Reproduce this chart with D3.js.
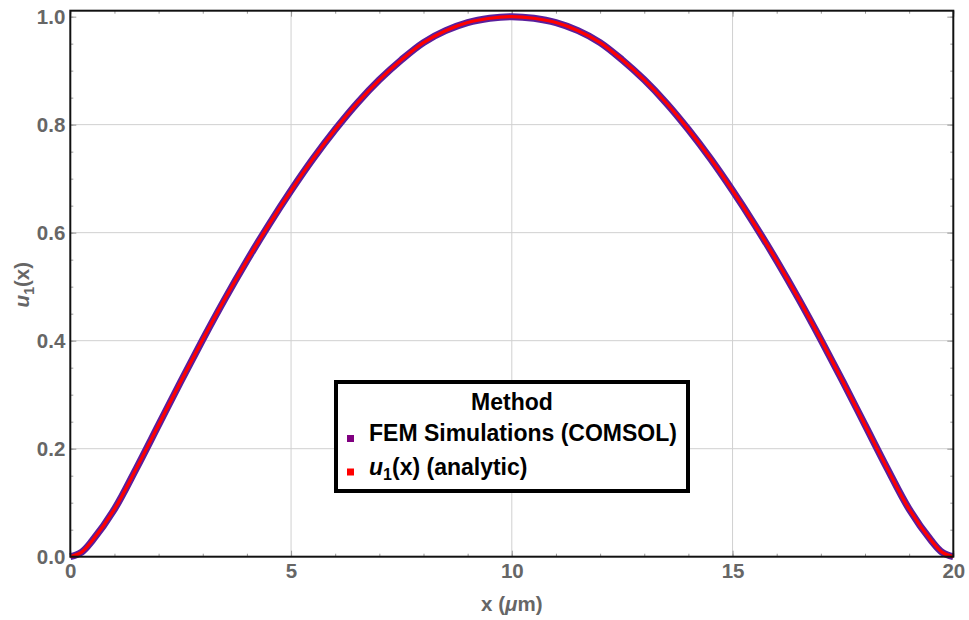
<!DOCTYPE html>
<html>
<head>
<meta charset="utf-8">
<script src="https://cdn.jsdelivr.net/npm/d3@7"></script>
<style>
  html, body { margin: 0; padding: 0; background: #fff; }
  svg { display: block; font-family: "Liberation Sans", Arial, sans-serif; }
</style>
</head>
<body>
<svg id="chart" width="969" height="620"></svg>
<script>
// Displacement profile u1(x) along the beam (x in micrometres)
const xPositions = [0, 0.25, 0.5, 1, 1.5, 2, 2.5, 3, 3.5, 4, 4.5, 5, 5.5, 6, 6.5, 7, 7.5, 8, 8.5, 9, 9.5, 10,
  10.5, 11, 11.5, 12, 12.5, 13, 13.5, 14, 14.5, 15, 15.5, 16, 16.5, 17, 17.5, 18, 18.5, 19, 19.5, 19.75, 20];
const femValues = [0, 0.008, 0.030, 0.088, 0.164, 0.244, 0.324, 0.402, 0.477, 0.548, 0.615, 0.678, 0.737, 0.791, 0.840, 0.883, 0.920, 0.952, 0.974, 0.989, 0.997, 1.000,
  0.997, 0.989, 0.974, 0.952, 0.920, 0.883, 0.840, 0.791, 0.737, 0.678, 0.615, 0.548, 0.477, 0.402, 0.324, 0.244, 0.164, 0.088, 0.030, 0.008, 0];
const analyticValues = [0, 0.008, 0.030, 0.088, 0.164, 0.244, 0.324, 0.402, 0.477, 0.548, 0.615, 0.678, 0.737, 0.791, 0.840, 0.883, 0.920, 0.952, 0.974, 0.989, 0.997, 1.000,
  0.997, 0.989, 0.974, 0.952, 0.920, 0.883, 0.840, 0.791, 0.737, 0.678, 0.615, 0.548, 0.477, 0.402, 0.324, 0.244, 0.164, 0.088, 0.030, 0.008, 0];

const xTicks = [0, 5, 10, 15, 20];
const yTicks = [0.0, 0.2, 0.4, 0.6, 0.8, 1.0];
const xMinorTicks = d3.range(0, 20.001, 1);
const yMinorTicks = d3.range(0, 1.0001, 0.05);
const seriesNames = ["FEM Simulations (COMSOL)", "(analytic)"];
const seriesColors = ["#800080", "#ff0000"];

const svg = d3.select("#chart");
const plotLeft = 70.3, plotRight = 953.3, plotTop = 10.7, plotBottom = 556.7;
const labelFont = 20.5;

const x = d3.scaleLinear().domain([0, 20]).range([plotLeft, plotRight]);
const y = d3.scaleLinear().domain([0, 1.011]).range([plotBottom, plotTop]);

// grid
const grid = svg.append("g").attr("stroke", "#d0d0d0").attr("stroke-width", 1);
grid.selectAll(".gx").data(xTicks.slice(1, -1)).join("line")
  .attr("x1", d => x(d)).attr("x2", d => x(d)).attr("y1", plotTop).attr("y2", plotBottom);
grid.selectAll(".gy").data(yTicks.slice(1, -1)).join("line")
  .attr("x1", plotLeft).attr("x2", plotRight).attr("y1", d => y(d)).attr("y2", d => y(d));

// tick marks on all four sides, pointing inward
function innerTicks(axisGen, transform, values, size) {
  const g = svg.append("g").attr("transform", transform)
    .call(axisGen.tickValues(values).tickSize(size).tickFormat(""));
  g.select(".domain").remove();
  g.selectAll(".tick line").attr("stroke", "#999").attr("stroke-width", 1);
}
innerTicks(d3.axisTop(x), `translate(0,${plotBottom})`, xMinorTicks, 3);
innerTicks(d3.axisTop(x), `translate(0,${plotBottom})`, xTicks, 6);
innerTicks(d3.axisBottom(x), `translate(0,${plotTop})`, xMinorTicks, 3);
innerTicks(d3.axisBottom(x), `translate(0,${plotTop})`, xTicks, 6);
innerTicks(d3.axisRight(y), `translate(${plotLeft},0)`, yMinorTicks, 3);
innerTicks(d3.axisRight(y), `translate(${plotLeft},0)`, yTicks, 6);
innerTicks(d3.axisLeft(y), `translate(${plotRight},0)`, yMinorTicks, 3);
innerTicks(d3.axisLeft(y), `translate(${plotRight},0)`, yTicks, 6);

// tick labels
const xAxis = svg.append("g").attr("transform", `translate(0,${plotBottom})`)
  .call(d3.axisBottom(x).tickValues(xTicks).tickSize(0).tickPadding(7).tickFormat(d3.format("d")));
xAxis.select(".domain").remove();
xAxis.selectAll("text").attr("font-size", labelFont).attr("font-weight", "bold")
  .attr("fill", "#666").attr("font-family", "Liberation Sans, Arial, sans-serif");

const yAxis = svg.append("g").attr("transform", `translate(${plotLeft},0)`)
  .call(d3.axisLeft(y).tickValues(yTicks).tickSize(0).tickPadding(5).tickFormat(d3.format(".1f")));
yAxis.select(".domain").remove();
yAxis.selectAll("text").attr("font-size", labelFont).attr("font-weight", "bold")
  .attr("fill", "#666").attr("font-family", "Liberation Sans, Arial, sans-serif");

// curves: FEM underneath (wide), analytic on top (narrow)
const line = d3.line().curve(d3.curveCatmullRom.alpha(0.5)).x(d => x(d[0])).y(d => y(d[1]));
svg.append("path").datum(xPositions.map((v, i) => [v, femValues[i]]))
  .attr("d", line).attr("fill", "none").attr("stroke", "#5a1e9c")
  .attr("stroke-width", 7).attr("stroke-linejoin", "round");
svg.append("path").datum(xPositions.map((v, i) => [v, analyticValues[i]]))
  .attr("d", line).attr("fill", "none").attr("stroke", seriesColors[1])
  .attr("stroke-width", 3.2).attr("stroke-linejoin", "round");

// frame
svg.append("rect").attr("x", plotLeft).attr("y", plotTop)
  .attr("width", plotRight - plotLeft).attr("height", plotBottom - plotTop)
  .attr("fill", "none").attr("stroke", "#111").attr("stroke-width", 2);

// axis titles
const xTitle = svg.append("text").attr("x", (plotLeft + plotRight) / 2).attr("y", 611)
  .attr("text-anchor", "middle").attr("font-size", labelFont).attr("font-weight", "bold").attr("fill", "#666");
xTitle.append("tspan").text("x (");
xTitle.append("tspan").attr("font-style", "italic").text("μ");
xTitle.append("tspan").text("m)");

const yTitle = svg.append("text")
  .attr("transform", `translate(29,${(plotTop + plotBottom) / 2 + 1}) rotate(-90)`)
  .attr("text-anchor", "middle").attr("font-size", labelFont).attr("font-weight", "bold").attr("fill", "#666");
yTitle.append("tspan").attr("font-style", "italic").text("u");
yTitle.append("tspan").attr("font-size", 14).attr("dy", 5).text("1");
yTitle.append("tspan").attr("dy", -5).text("(x)");

// legend
const legendFont = 23;
const lg = svg.append("g");
lg.append("rect").attr("x", 336).attr("y", 382).attr("width", 352).attr("height", 109)
  .attr("fill", "#fff").attr("stroke", "#000").attr("stroke-width", 4);
lg.append("text").attr("x", 512).attr("y", 410).attr("text-anchor", "middle")
  .attr("font-size", legendFont).attr("font-weight", "bold").attr("fill", "#000").text("Method");

const rows = [0, 1];
lg.selectAll(".sw").data(rows).join("rect")
  .attr("x", 347).attr("y", d => 435 + d * 33.5).attr("width", 7).attr("height", 7)
  .attr("fill", d => seriesColors[d]);
lg.append("text").attr("x", 369).attr("y", 441).attr("font-size", legendFont)
  .attr("font-weight", "bold").attr("fill", "#000").text(seriesNames[0]);
const t2 = lg.append("text").attr("x", 369).attr("y", 475).attr("font-size", legendFont)
  .attr("font-weight", "bold").attr("fill", "#000");
t2.append("tspan").attr("font-style", "italic").text("u");
t2.append("tspan").attr("font-size", 16).attr("dy", 5).text("1");
t2.append("tspan").attr("dy", -5).text("(x) " + seriesNames[1]);
</script>
</body>
</html>
